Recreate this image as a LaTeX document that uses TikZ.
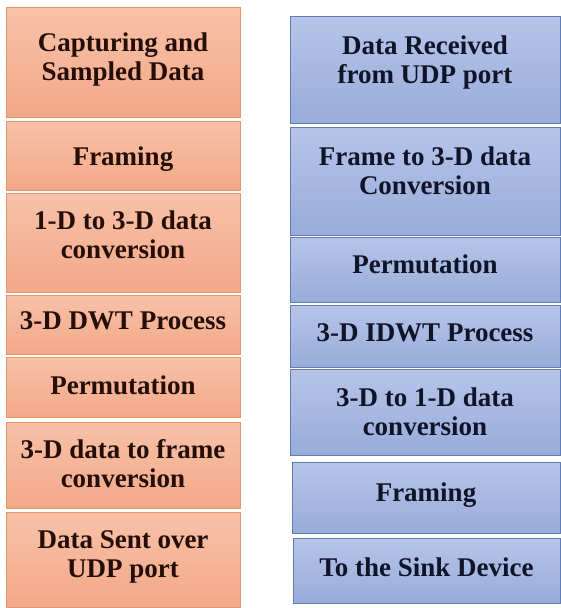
\documentclass[tikz,border=0pt]{standalone}
\usepackage{fontspec}
\newfontfamily\capfont{Liberation Serif Bold}
\usetikzlibrary{calc}
\definecolor{otop}{RGB}{248,194,168}
\definecolor{obot}{RGB}{242,168,136}
\definecolor{oedge}{RGB}{230,150,108}
\definecolor{otext}{RGB}{38,14,8}
\definecolor{btop}{RGB}{182,196,232}
\definecolor{bbot}{RGB}{152,172,218}
\definecolor{bedge}{RGB}{98,124,182}
\definecolor{btext}{RGB}{16,20,40}
% caption lines padded to full line height so the block centres evenly
\newcommand\capt[1]{\rule{0pt}{20.3pt}#1\rule[-8.7pt]{0pt}{8.7pt}}
\tikzset{
  stage/.style={inner sep=0pt, line width=0.8pt},
  obox/.style={stage, draw=oedge, top color=otop, bottom color=obot},
  bbox/.style={stage, draw=bedge, top color=btop, bottom color=bbot},
  lbl/.style={font=\capfont\fontsize{27}{29}\selectfont, align=center, inner sep=0pt},
  olbl/.style={lbl, text=otext},
  blbl/.style={lbl, text=btext}
}
\begin{document}
\begin{tikzpicture}[x=1pt,y=-1pt]
\useasboundingbox (0,0) rectangle (561,608);
\fill[white] (0,0) rectangle (561,608);

% transmitter chain (left)
\node[obox, minimum width=234pt, minimum height=110pt] (tx1) at (123,62) {};
\node[obox, minimum width=234pt, minimum height=69pt] (tx2) at (123,155.5) {};
\node[obox, minimum width=234pt, minimum height=99pt] (tx3) at (123,242.5) {};
\node[obox, minimum width=234pt, minimum height=59pt] (tx4) at (123,324.5) {};
\node[obox, minimum width=234pt, minimum height=60pt] (tx5) at (123,387) {};
\node[obox, minimum width=234pt, minimum height=86pt] (tx6) at (123,465) {};
\node[obox, minimum width=234pt, minimum height=95pt] (tx7) at (123,559.5) {};

\node[olbl] (tx1t) at ($(tx1)+(0,-1.6)$) {\capt{Capturing and\\Sampled Data}};
\node[olbl] (tx2t) at ($(tx2)+(0,3.9)$) {\capt{Framing}};
\node[olbl] (tx3t) at ($(tx3)+(0,-4.3)$) {\capt{1-D to 3-D data\\conversion}};
\node[olbl] (tx4t) at ($(tx4)+(0,-0.8)$) {\capt{3-D DWT Process}};
\node[olbl] (tx5t) at ($(tx5)+(0,1.2)$) {\capt{Permutation}};
\node[olbl] (tx6t) at ($(tx6)+(0,2.2)$) {\capt{3-D data to frame\\conversion}};
\node[olbl] (tx7t) at ($(tx7)+(0,-2.6)$) {\capt{Data Sent over\\UDP port}};

% receiver chain (right)
\node[bbox, minimum width=270pt, minimum height=107pt] (rx1) at (425,69.5) {};
\node[bbox, minimum width=270pt, minimum height=108pt] (rx2) at (425,181) {};
\node[bbox, minimum width=270pt, minimum height=65pt] (rx3) at (425,269.5) {};
\node[bbox, minimum width=270pt, minimum height=62pt] (rx4) at (425,336) {};
\node[bbox, minimum width=270pt, minimum height=86pt] (rx5) at (425,412) {};
\node[bbox, minimum width=268pt, minimum height=71pt] (rx6) at (426,497.5) {};
\node[bbox, minimum width=267pt, minimum height=65pt] (rx7) at (426.5,570.5) {};

\node[blbl] (rx1t) at ($(rx1)+(0,-6.8)$) {\capt{Data Received\\from UDP port}};
\node[blbl] (rx2t) at ($(rx2)+(0,-6.6)$) {\capt{Frame to 3-D data\\Conversion}};
\node[blbl] (rx3t) at ($(rx3)+(0,-1.8)$) {\capt{Permutation}};
\node[blbl] (rx4t) at (rx4) {\capt{3-D IDWT Process}};
\node[blbl] (rx5t) at ($(rx5)+(0,2.9)$) {\capt{3-D to 1-D data\\conversion}};
\node[blbl] (rx6t) at ($(rx6)+(0,-1.4)$) {\capt{Framing}};
\node[blbl] (rx7t) at ($(rx7)+(0,0.6)$) {\capt{To the Sink Device}};
\end{tikzpicture}
\end{document}
